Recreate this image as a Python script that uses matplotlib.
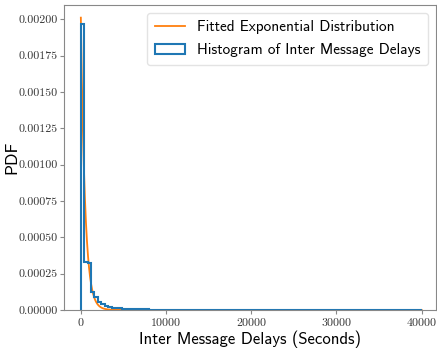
import numpy as np
import matplotlib
matplotlib.use('Agg')
import matplotlib.pyplot as plt

plt.rcParams['axes.formatter.use_mathtext'] = True

# histogram of inter message delays, 100 bins of 400 s
bin_edges = np.arange(0, 40001, 400)
hist_head = [0.00197, 0.00033, 0.00032, 0.00012, 0.000088, 0.000056, 0.00004,
             0.00003, 0.000022, 0.000016, 0.000012, 0.00001, 0.000008, 0.000007,
             0.000006, 0.000005, 0.000004, 0.000004, 0.000003, 0.000003]
hist_vals = hist_head + [0.000002] * 5 + [0.000001] * 5 + [0.0] * (100 - len(hist_head) - 10)

# fitted exponential (scale in seconds)
fit_scale = 497.0
fit_x = np.linspace(0, 40000, 4000)

fig = plt.figure(figsize=(4.37, 3.49), dpi=100)
ax = fig.add_axes([0.146, 0.112, 0.852, 0.874])

fit_y = np.exp(-fit_x / fit_scale) / fit_scale
ax.plot(fit_x, fit_y, color='#ff7f0e', lw=1.3, label='Fitted Exponential Distribution')
ax.hist(bin_edges[:-1], bins=bin_edges, weights=hist_vals, histtype='step',
        color='#1f77b4', lw=1.5, label='Histogram of Inter Message Delays')

ax.set_xlim(-2000, 41700)
ax.set_ylim(0, 0.0021)
ax.set_xticks([0, 10000, 20000, 30000, 40000])
yt = np.arange(0, 0.00201, 0.00025)
ax.set_yticks(yt)
ax.set_yticklabels(['%.5f' % v for v in yt])

for lab in ax.get_xticklabels() + ax.get_yticklabels():
    lab.set_fontfamily('cmr10')
    lab.set_fontsize(8.6)
ax.tick_params(colors='#333333', length=3, width=0.8, pad=1.5)
ax.tick_params(axis='both', color='#888888')
for s in ax.spines.values():
    s.set_color('#888888')

ax.set_xlabel('Inter Message Delays (Seconds)', fontfamily='cmss10', fontsize=12, labelpad=2)
ax.set_ylabel('PDF', fontfamily='cmss10', fontsize=12.5)
ax.yaxis.set_label_coords(-0.118, 0.5)

leg = ax.legend(loc='upper right', prop={'family': 'cmss10', 'size': 11},
                handlelength=2, borderpad=0.5, labelspacing=0.6)
leg.get_frame().set_edgecolor('#dddddd')

fig.savefig('out.png', dpi=100)
